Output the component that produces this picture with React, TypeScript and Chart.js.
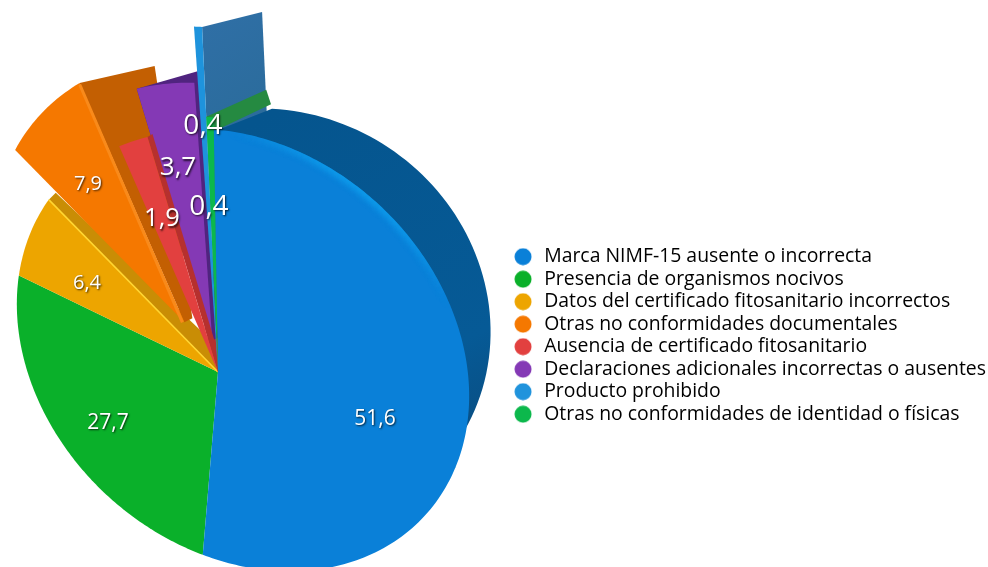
import React, { useEffect, useRef } from "react";
import { Chart, registerables } from "chart.js";

Chart.register(...registerables);

const CATEGORIES = [
  "Marca NIMF-15 ausente o incorrecta",
  "Presencia de organismos nocivos",
  "Datos del certificado fitosanitario incorrectos",
  "Otras no conformidades documentales",
  "Ausencia de certificado fitosanitario",
  "Declaraciones adicionales incorrectas o ausentes",
  "Producto prohibido",
  "Otras no conformidades de identidad o físicas",
];
const VALUES = [51.6, 27.7, 6.4, 7.9, 1.9, 3.7, 0.4, 0.4];
const COLORS = ["#0A80D8", "#0AB02A", "#EDA500", "#F57800", "#E2403F", "#8439B5", "#1E93DC", "#0CB84C"];
const LEGEND_COLORS = ["#0A80D8", "#0AB02A", "#EDA500", "#F57800", "#E2403F", "#8439B5", "#2093DC", "#0CB84C"];

// ---- drawing style: the perspective look of the 3D pie (no data here) ----
const APEX = { x: 218, y: 372 };
const RIM = { x: 243, y: 350, a: 246, b: 199, rot: (42 * Math.PI) / 180 };
const BACK_RIM = { x: 272, y: 320, a: 222, b: 208, rot: (30 * Math.PI) / 180 };
const EXPLODE = [0, 0, 0, 60, 0, 32, 0, 0];
const RIM_SCALE_START = [1, 1, 1, 1.0, 0.99, 1.06, 1.42, 1.05];
const RIM_SCALE_END = [1, 1, 1, 1.05, 0.99, 1.06, 1.42, 1.05];
// perspective correction of each slice boundary, degrees
const BOUNDARY_SHIFT = [0, 0, 11.4, 8, 0.4, 0.5, -0.1, -0.2, 0];
const WALLS: Record<number, any> = {
  2: { color: "#C98D05", rim: [7, -7], tip: [0, -25] },
  3: { color: "#C35F02", rim: [75, -17], tip: [8, -4] },
  4: { color: "#B6302E", rim: [5, -3], tip: [5, -3] },
  5: { color: "#50247F", rim: [5, -12], tip: [6, -3], fromStart: true },
};
const LABEL_POS = [
  [375, 419], [108, 423], [87, 283], [88, 184], [162, 219], [178, 168], [203, 126], [209, 207],
];
const LABEL_SIZE = [21, 21, 20, 20, 25.5, 26, 28, 28];

type Pt = { x: number; y: number };
const rad = (d: number) => (d * Math.PI) / 180;

function rayEllipse(p: Pt, th: number, e: any) {
  const dx = Math.cos(th), dy = Math.sin(th);
  const c = Math.cos(e.rot), s = Math.sin(e.rot);
  const px = ((p.x - e.x) * c + (p.y - e.y) * s) / e.a;
  const py = (-(p.x - e.x) * s + (p.y - e.y) * c) / e.b;
  const qx = (dx * c + dy * s) / e.a;
  const qy = (-dx * s + dy * c) / e.b;
  const A = qx * qx + qy * qy, B = 2 * (px * qx + py * qy), C = px * px + py * py - 1;
  return (-B + Math.sqrt(Math.max(0, B * B - 4 * A * C))) / (2 * A);
}

function sliceGeom(i: number, el: any) {
  const s = el.startAngle + rad(BOUNDARY_SHIFT[i]);
  const e = el.endAngle + rad(BOUNDARY_SHIFT[i + 1]);
  const mid = (s + e) / 2;
  const off = el.options.offset || 0;
  const ox = Math.cos(mid) * off, oy = Math.sin(mid) * off;
  const apex = { x: APEX.x + ox, y: APEX.y + oy };
  const rim = { ...RIM, x: RIM.x + ox, y: RIM.y + oy };
  const at = (th: number): Pt => {
    const f = (th - s) / (e - s);
    const scale = RIM_SCALE_START[i] + (RIM_SCALE_END[i] - RIM_SCALE_START[i]) * f;
    const t = rayEllipse(apex, th, rim) * scale;
    return { x: apex.x + Math.cos(th) * t, y: apex.y + Math.sin(th) * t };
  };
  return { s, e, apex, at };
}

function facePath(ctx: CanvasRenderingContext2D, g: any) {
  ctx.beginPath();
  ctx.moveTo(g.apex.x, g.apex.y);
  const n = Math.max(4, Math.ceil(((g.e - g.s) * 180) / Math.PI));
  for (let k = 0; k <= n; k++) {
    const p = g.at(g.s + ((g.e - g.s) * k) / n);
    ctx.lineTo(p.x, p.y);
  }
  ctx.closePath();
}

function poly(ctx: CanvasRenderingContext2D, pts: Pt[], fill: any) {
  ctx.beginPath();
  pts.forEach((p, k) => (k ? ctx.lineTo(p.x, p.y) : ctx.moveTo(p.x, p.y)));
  ctx.closePath();
  ctx.fillStyle = fill;
  ctx.fill();
}

const pieStyle = {
  id: "pieStyle",
  beforeDatasetDraw(chart: any, args: any) {
    const ctx: CanvasRenderingContext2D = chart.ctx;
    const els = args.meta.data;
    const G = els.map((el: any, i: number) => sliceGeom(i, el));
    const fill = (i: number) => {
      facePath(ctx, G[i]);
      ctx.fillStyle = COLORS[i];
      ctx.fill();
    };
    const wall = (i: number) => {
      const w = WALLS[i], g = G[i];
      const end = g.at(g.e);
      const a = w.fromStart ? [g.at(g.s)] : [end];
      poly(
        ctx,
        [g.apex, ...a, { x: end.x + w.rim[0], y: end.y + w.rim[1] }, { x: g.apex.x + w.tip[0], y: g.apex.y + w.tip[1] }],
        w.color,
      );
    };
    ctx.save();

    // wall of "Producto prohibido"
    {
      const g = G[6], end = g.at(g.e);
      const grad = ctx.createLinearGradient(200, 20, 264, 110);
      grad.addColorStop(0, "#2F6FA6");
      grad.addColorStop(1, "#2B6C9C");
      poly(ctx, [g.apex, end, { x: end.x + 60, y: end.y - 15 }, { x: g.apex.x + 60, y: g.apex.y - 15 }], grad);
    }
    // wall of the large slice
    {
      const g = G[0];
      const c = { x: BACK_RIM.x, y: BACK_RIM.y };
      ctx.beginPath();
      const st = g.at(g.s + 0.02);
      ctx.moveTo(st.x, st.y);
      for (let d = -90; d <= 37; d += 2) {
        const t = rayEllipse(c, rad(d), BACK_RIM);
        ctx.lineTo(c.x + Math.cos(rad(d)) * t, c.y + Math.sin(rad(d)) * t);
      }
      const h = g.at(rad(22));
      ctx.lineTo(h.x, h.y);
      ctx.lineTo(g.apex.x, g.apex.y);
      ctx.closePath();
      const grad = ctx.createLinearGradient(300, 100, 480, 470);
      grad.addColorStop(0, "#05558E");
      grad.addColorStop(0.7, "#065A96");
      grad.addColorStop(1, "#0A4A7C");
      ctx.fillStyle = grad;
      ctx.fill();
    }
    // wall of the last small slice
    {
      const g = G[7];
      const mid = (g.s + g.e) / 2;
      const r0 = g.at(g.s), r1 = g.at(g.e);
      const inner = { x: r1.x - Math.cos(mid) * 14, y: r1.y - Math.sin(mid) * 14 };
      const v = { x: 60, y: -27 };
      poly(ctx, [r0, { x: r0.x + v.x, y: r0.y + v.y }, { x: inner.x + v.x - 3, y: inner.y + v.y }, inner], "#258A41");
    }

    fill(1);
    fill(2);
    wall(2);
    // bright edge of the third slice
    ctx.beginPath();
    ctx.moveTo(G[2].apex.x, G[2].apex.y);
    const yEnd = G[2].at(G[2].e);
    ctx.lineTo(yEnd.x, yEnd.y);
    ctx.strokeStyle = "#FFD531";
    ctx.lineWidth = 1.6;
    ctx.stroke();

    wall(3);
    fill(3);
    const oEnd = G[3].at(G[3].e - 0.004);
    ctx.beginPath();
    ctx.moveTo(G[3].apex.x - 2, G[3].apex.y);
    ctx.lineTo(oEnd.x + 1, oEnd.y + 1);
    ctx.strokeStyle = "#F98A1A";
    ctx.lineWidth = 3;
    ctx.stroke();

    // dark base under the exploded purple slice, reaching the common apex
    {
      const g = G[5];
      poly(ctx, [APEX, { x: g.apex.x - 8, y: g.apex.y - 14 }, { x: g.apex.x + 9, y: g.apex.y - 14 }], "#B6302E");
    }
    wall(5);
    fill(5);
    wall(4);
    fill(4);
    fill(0);

    // highlight along the rim of the large slice
    ctx.save();
    facePath(ctx, G[0]);
    ctx.clip();
    const N = 40;
    const from = G[0].s + 0.08, to = G[0].s + 1.3;
    ctx.filter = "blur(3px)";
    ctx.lineWidth = 8;
    ctx.strokeStyle = "#10A9F5";
    for (let k = 0; k < N; k++) {
      const a = G[0].at(from + ((to - from) * k) / N);
      const b = G[0].at(from + ((to - from) * (k + 1)) / N);
      ctx.globalAlpha = Math.sin((Math.PI * (k + 0.5)) / N) * 0.9;
      ctx.beginPath();
      ctx.moveTo(a.x, a.y);
      ctx.lineTo(b.x, b.y);
      ctx.stroke();
    }
    ctx.restore();

    fill(6);
    fill(7);
    ctx.restore();
    return false;
  },
  afterDatasetsDraw(chart: any) {
    const ctx: CanvasRenderingContext2D = chart.ctx;
    ctx.save();
    ctx.textAlign = "center";
    ctx.textBaseline = "middle";
    VALUES.forEach((v, i) => {
      const [x, y] = LABEL_POS[i];
      ctx.font = `${LABEL_SIZE[i]}px "Open Sans"`;
      ctx.shadowColor = "rgba(0,0,0,0.75)";
      ctx.shadowBlur = 2;
      ctx.shadowOffsetX = 1;
      ctx.shadowOffsetY = 1.5;
      ctx.fillStyle = "#FFFFFF";
      ctx.fillText(v.toFixed(1).replace(".", ","), x, y);
    });
    ctx.restore();
  },
};

function dot(color: string) {
  const c = document.createElement("canvas");
  c.width = 18;
  c.height = 18;
  const x = c.getContext("2d")!;
  x.fillStyle = color;
  x.beginPath();
  x.arc(9, 9, 8.5, 0, Math.PI * 2);
  x.fill();
  return c;
}

export default function App() {
  const ref = useRef<HTMLCanvasElement>(null);
  useEffect(() => {
    document.body.style.margin = "0";
    const chart = new Chart(ref.current!, {
      type: "pie",
      data: {
        labels: CATEGORIES,
        datasets: [
          { data: VALUES, backgroundColor: COLORS, borderWidth: 0, offset: EXPLODE, clip: false } as any,
        ],
      },
      options: {
        responsive: false,
        animation: false,
        rotation: -1,
        layout: { padding: { top: 104, right: -8 } },
        plugins: {
          tooltip: { enabled: false },
          legend: {
            position: "right",
            labels: {
              usePointStyle: true,
              pointStyleWidth: 23,
              boxHeight: 17,
              padding: 3.1,
              color: "#111111",
              font: { family: '"Open Sans"', size: 19.4 },
              generateLabels: () =>
                CATEGORIES.map((text, i) => ({
                  text,
                  fillStyle: LEGEND_COLORS[i],
                  strokeStyle: LEGEND_COLORS[i],
                  lineWidth: 0,
                  hidden: false,
                  index: i,
                  pointStyle: dot(LEGEND_COLORS[i]),
                })) as any,
            },
          },
        },
      },
      plugins: [pieStyle],
    });
    return () => chart.destroy();
  }, []);
  return <canvas ref={ref} width={988} height={567} style={{ display: "block" }} />;
}
